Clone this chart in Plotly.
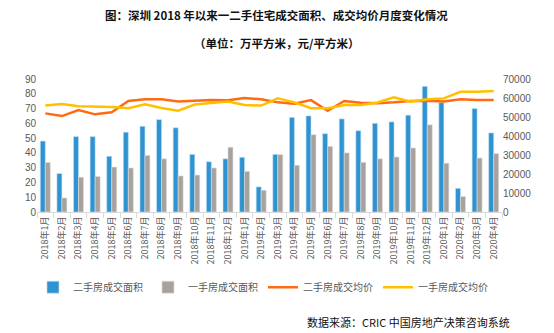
import plotly.graph_objects as go

months = ["2018年1月","2018年2月","2018年3月","2018年4月","2018年5月","2018年6月","2018年7月","2018年8月","2018年9月","2018年10月","2018年11月","2018年12月",
          "2019年1月","2019年2月","2019年3月","2019年4月","2019年5月","2019年6月","2019年7月","2019年8月","2019年9月","2019年10月","2019年11月","2019年12月",
          "2020年1月","2020年2月","2020年3月","2020年4月"]
second_area = [48, 26, 51, 51, 37.7, 54, 58, 62.5, 57, 39, 34, 36, 37, 17, 39, 64, 65, 53, 63, 55, 60, 61, 65.5, 85, 74, 16, 70, 53.5]
first_area = [33.5, 9.5, 23.5, 24, 30.4, 29.8, 38.3, 36, 24.4, 25, 29.8, 43.8, 27.5, 14.7, 38.8, 31.6, 52.3, 44.4, 40, 33.6, 36, 37.2, 43.3, 59, 33, 10.5, 36.5, 39.5]
second_price = [51900, 50500, 53700, 51400, 52500, 58400, 59300, 59300, 58100, 58600, 58900, 58800, 60000, 59300, 57700, 57000, 58900, 53300, 58400, 57500, 57300, 57700, 58400, 58600, 58100, 59300, 58900, 58900]
first_price = [56100, 56800, 55600, 55600, 55300, 54600, 56700, 54700, 53300, 56600, 57500, 58100, 56300, 56000, 59800, 57700, 54600, 54600, 56300, 56300, 57600, 60400, 58100, 59300, 59800, 63300, 63300, 63700]

left_ticks = [0, 10, 20, 30, 40, 50, 60, 70, 80, 90]
right_ticks = [0, 10000, 20000, 30000, 40000, 50000, 60000, 70000]

FONT = "Noto Sans CJK SC"
NUM = "Liberation Sans"
GRAY = "#595959"

fig = go.Figure()
fig.add_bar(x=months, y=second_area, name="二手房成交面积", marker=dict(color="#2F93D1", line=dict(color="#BFE0F5", width=0.6)))
fig.add_bar(x=months, y=first_area, name="一手房成交面积", marker=dict(color="#A7A29D", line=dict(color="#E0DDDA", width=0.6)))
fig.add_scatter(x=months, y=second_price, name="二手房成交均价", yaxis="y2", mode="lines", line=dict(color="#FF6A13", width=2.5))
fig.add_scatter(x=months, y=first_price, name="一手房成交均价", yaxis="y2", mode="lines", line=dict(color="#FFC000", width=2.5))

fig.update_layout(
    width=554, height=333,
    margin=dict(l=37, r=52, t=79, b=121),
    paper_bgcolor="white", plot_bgcolor="white",
    barmode="group", bargap=0.4, bargroupgap=0,
    showlegend=True,
    legend=dict(orientation="h", x=0.486, xanchor="center", y=-0.565, yanchor="middle",
                font=dict(family=FONT, size=10, color=GRAY), itemwidth=30, tracegroupgap=0),
    xaxis=dict(type="category", tickangle=-90, tickfont=dict(family=FONT, size=9, color=GRAY),
               showline=True, linecolor="#D9D9D9", linewidth=1, ticks="outside", tickson="boundaries",
               ticklen=5, tickcolor="#D9D9D9", showgrid=False),
    yaxis=dict(range=[0, 90], tickvals=left_ticks, showgrid=False, zeroline=False,
               tickfont=dict(family=NUM, size=10, color=GRAY), ticks="", showline=False),
    yaxis2=dict(range=[0, 70000], tickvals=right_ticks, tickformat="d", overlaying="y", side="right", showgrid=False,
                zeroline=False, tickfont=dict(family=NUM, size=10, color=GRAY), ticks=""),
    annotations=[
        dict(text="<b>图：深圳 2018 年以来一二手住宅成交面积、成交均价月度变化情况</b>", xref="paper", yref="paper",
             x=0.516, y=(212 - 15) / 133, xanchor="center", yanchor="middle", showarrow=False,
             font=dict(family=FONT, size=11.5, color="#111111")),
        dict(text="<b>（单位：万平方米，元/平方米）</b>", xref="paper", yref="paper",
             x=0.516, y=(212 - 43) / 133, xanchor="center", yanchor="middle", showarrow=False,
             font=dict(family=FONT, size=11.5, color="#111111")),
        dict(text="数据来源：CRIC 中国房地产决策咨询系统", xref="paper", yref="paper",
             x=(512 - 37) / 465, y=(212 - 322) / 133, xanchor="right", yanchor="middle", showarrow=False,
             font=dict(family=FONT, size=11, color="#111111")),
    ],
)

fig.write_html("out.html")
